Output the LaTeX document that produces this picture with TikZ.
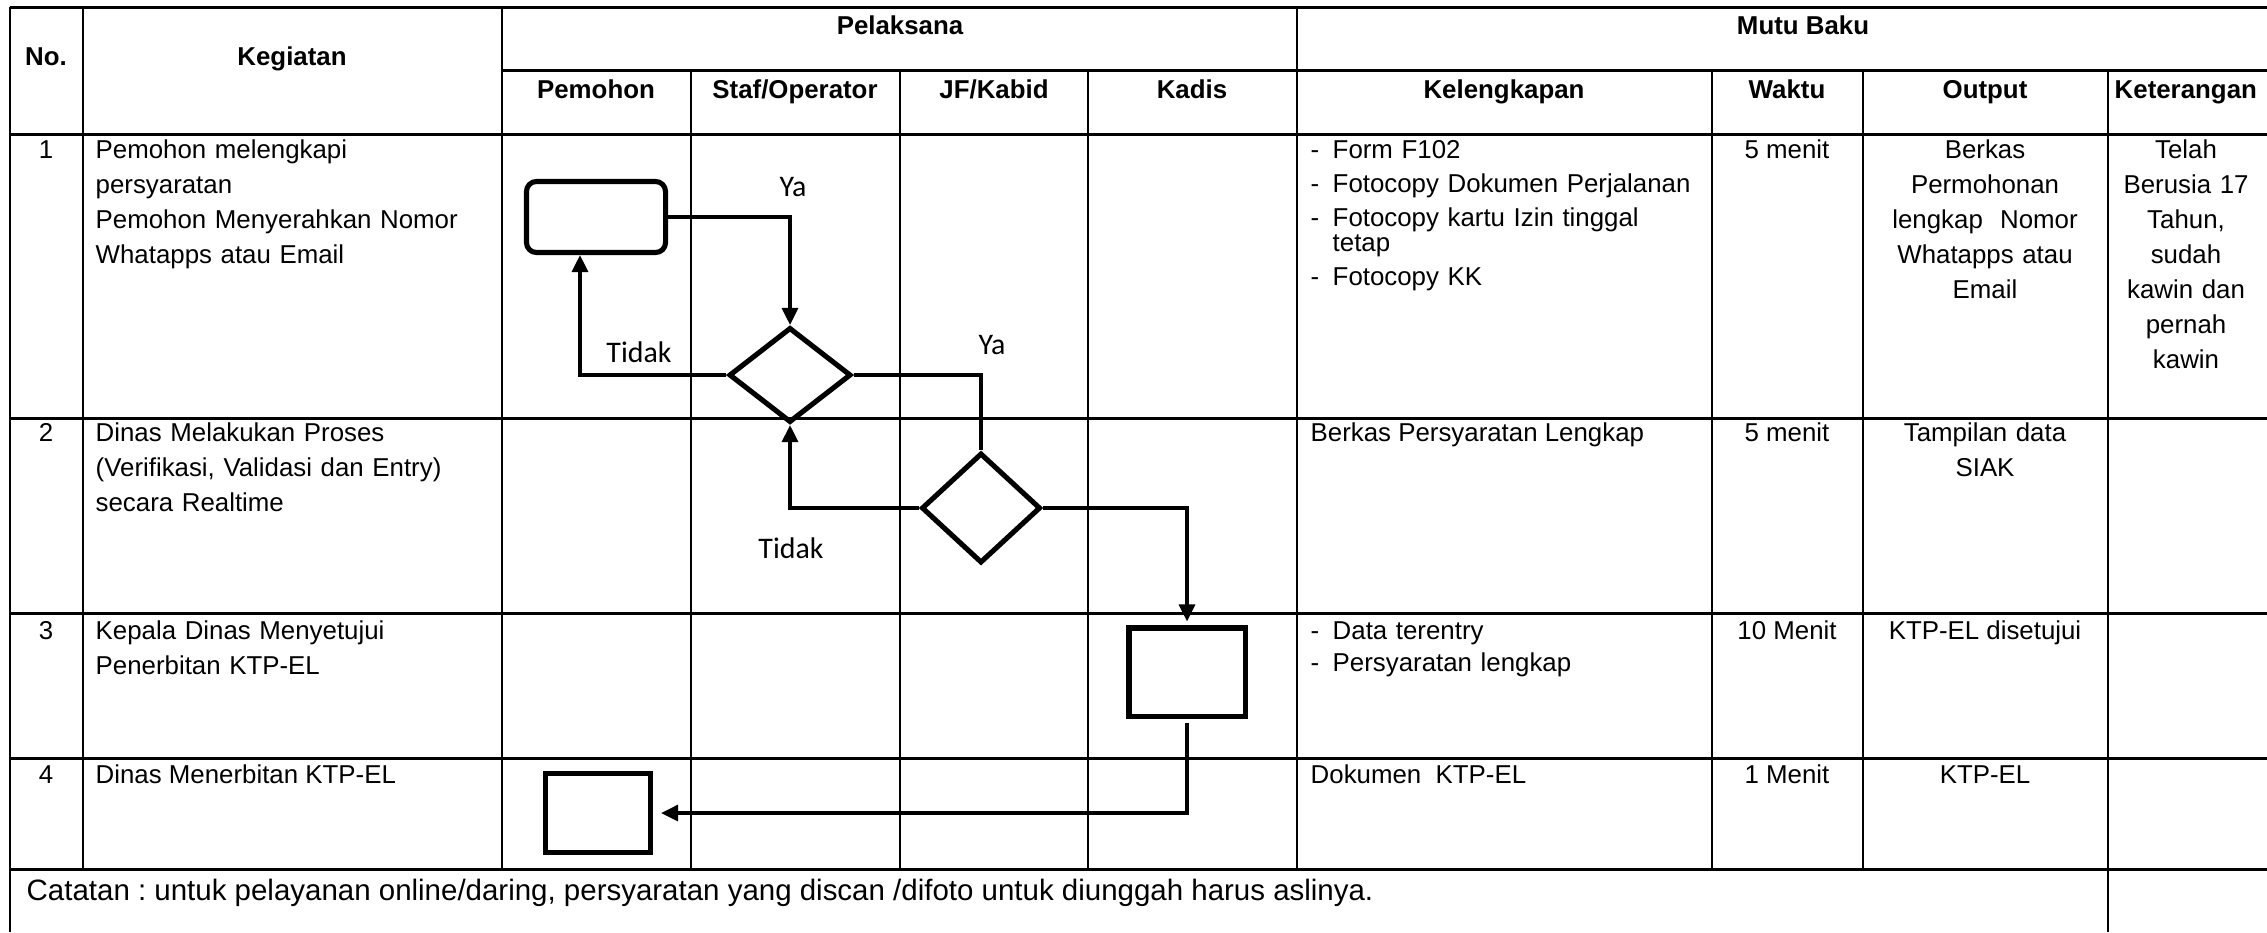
\documentclass[tikz,border=0pt]{standalone}
\usepackage{fontspec}
\setmainfont{Liberation Sans}
\newfontfamily\calib{Carlito}
\usetikzlibrary{arrows.meta,shapes.geometric}
\frenchspacing

\newcommand\bodyf{\fontsize{7.35}{9.96}\selectfont}
\newcommand\listf{\fontsize{7.35}{7.11}\selectfont}
\newcommand\headf{\fontsize{7.35}{9.96}\selectfont\bfseries}
\newcommand\notef{\fontsize{8.38}{10}\selectfont}
\newcommand\lblf{\calib\fontsize{8.5}{10}\selectfont}
\newcommand\dsh{\makebox[0.22cm][l]{-}}

\begin{document}
\begin{tikzpicture}[x=0.01cm,y=-0.01cm,
  tblh/.style={line width=0.85pt},
  tblv/.style={line width=0.6pt},
  shp/.style={draw,line width=1.45pt,inner sep=0pt},
  conn/.style={line width=0.9pt},
  arr/.style={conn,-{Triangle[width=0.16cm,length=0.17cm]}},
  txt/.style={font=\bodyf,inner sep=0pt},
  lst/.style={font=\listf,inner sep=0pt,text width=3.95cm,align=left,anchor=base west},
  hd/.style={font=\headf,inner sep=0pt,anchor=base},
  lbl/.style={font=\lblf,inner sep=0pt}]
\useasboundingbox (0,0) rectangle (2267,932);

% table lines
\draw[tblv] (10,7) -- (10,932);
\draw[tblv] (83,7) -- (83,869);
\draw[tblv] (502,7) -- (502,869);
\draw[tblv] (1297,7) -- (1297,869);
\foreach \xx in {691,900,1088,1712,1863} \draw[tblv] (\xx,70) -- (\xx,869);
\draw[tblv] (2108,70) -- (2108,932);
\draw[tblh] (10,7) -- (2267,7);
\draw[tblh] (502,70) -- (2267,70);
\foreach \yy in {134,418,613,758,869} \draw[tblh] (10,\yy) -- (2267,\yy);

% headers
\node[hd] (hno) at (46,65) {No.};
\node[hd] (hkeg) at (292,65) {Kegiatan};
\node[hd] (hpel) at (900,34) {Pelaksana};
\node[hd] (hmutu) at (1803,34) {Mutu Baku};
\node[hd] (hpem) at (596,98) {Pemohon};
\node[hd] (hstaf) at (795,98) {Staf/Operator};
\node[hd] (hjf) at (994,98) {JF/Kabid};
\node[hd] (hkadis) at (1192,98) {Kadis};
\node[hd] (hkel) at (1504,98) {Kelengkapan};
\node[hd] (hwak) at (1787,98) {Waktu};
\node[hd] (hout) at (1985,98) {Output};
\node[hd,anchor=base west] (hket) at (2114,98) {Keterangan};

% numbers
\node[txt,anchor=base] (n1) at (46,158) {1};
\node[txt,anchor=base] (n2) at (46,441) {2};
\node[txt,anchor=base] (n3) at (46,639) {3};
\node[txt,anchor=base] (n4) at (46,783) {4};

% kegiatan
\node[txt,anchor=base west,text width=3.9cm,align=left] (k1) at (95,158)
  {Pemohon melengkapi\\persyaratan\\Pemohon Menyerahkan Nomor\\Whatapps atau Email};
\node[txt,anchor=base west,text width=3.9cm,align=left] (k2) at (95,441)
  {Dinas Melakukan Proses\\(Verifikasi, Validasi dan Entry)\\secara Realtime};
\node[txt,anchor=base west,text width=3.9cm,align=left] (k3) at (95,639)
  {Kepala Dinas Menyetujui\\Penerbitan KTP-EL};
\node[txt,anchor=base west] (k4) at (95,783) {Dinas Menerbitan KTP-EL};

% kelengkapan
\node[lst] (l1) at (1310,158)
  {\dsh Form F102\\[0.09cm]\dsh Fotocopy Dokumen Perjalanan\\[0.09cm]\dsh Fotocopy kartu Izin tinggal\\\hspace*{0.22cm}tetap\\[0.09cm]\dsh Fotocopy KK};
\node[txt,anchor=base west] (l2) at (1310,441) {Berkas Persyaratan Lengkap};
\node[lst] (l3) at (1310,639) {\dsh Data terentry\\[0.07cm]\dsh Persyaratan lengkap};
\node[txt,anchor=base west] (l4) at (1310,783) {Dokumen\ \ KTP-EL};

% waktu
\node[txt,anchor=base] (w1) at (1787,158) {5 menit};
\node[txt,anchor=base] (w2) at (1787,441) {5 menit};
\node[txt,anchor=base] (w3) at (1787,639) {10 Menit};
\node[txt,anchor=base] (w4) at (1787,783) {1 Menit};

% output
\node[txt,anchor=base,text width=2.3cm,align=center] (o1) at (1985,158)
  {Berkas\\Permohonan\\lengkap\ \ Nomor\\Whatapps atau\\Email};
\node[txt,anchor=base,text width=2.3cm,align=center] (o2) at (1985,441)
  {Tampilan data\\SIAK};
\node[txt,anchor=base] (o3) at (1985,639) {KTP-EL disetujui};
\node[txt,anchor=base] (o4) at (1985,783) {KTP-EL};

% keterangan
\node[txt,anchor=base,text width=1.5cm,align=center] (ket1) at (2186,158)
  {Telah\\Berusia 17\\Tahun,\\sudah\\kawin dan\\pernah\\kawin};

% catatan
\node[font=\notef,inner sep=0pt,anchor=base west] (cat) at (26,900)
  {Catatan : untuk pelayanan online/daring, persyaratan yang discan /difoto untuk diunggah harus aslinya.};

% flowchart shapes
\node[shp,rounded corners=0.1cm,minimum width=1.39cm,minimum height=0.71cm] (term) at (596,217) {};
\node[shp,diamond,minimum width=1.22cm,minimum height=0.95cm] (dec1) at (790,375) {};
\node[shp,diamond,minimum width=1.19cm,minimum height=1.10cm] (dec2) at (981,508) {};
\node[shp,minimum width=1.16cm,minimum height=0.88cm] (proc3) at (1187,672) {};
\node[shp,minimum width=1.05cm,minimum height=0.79cm] (proc4) at (598,813) {};

% connectors
\draw[arr] (term.east) -| (dec1.north);
\draw[arr] (dec1.west) -| ([xshift=-0.16cm]term.south);
\draw[conn] (dec1.east) -| (dec2.north);
\draw[arr] (dec2.west) -| (dec1.south);
\draw[arr,shorten >=0.04cm] (dec2.east) -| (proc3.north);
\draw[arr,shorten <=0.04cm,shorten >=0.08cm] (proc3.south) |- (proc4.east);

% labels
\node[lbl] (ya1) at (793,187) {Ya};
\node[lbl] (tidak1) at (639,352) {Tidak};
\node[lbl] (ya2) at (992,345) {Ya};
\node[lbl] (tidak2) at (791,548) {Tidak};
\end{tikzpicture}
\end{document}
